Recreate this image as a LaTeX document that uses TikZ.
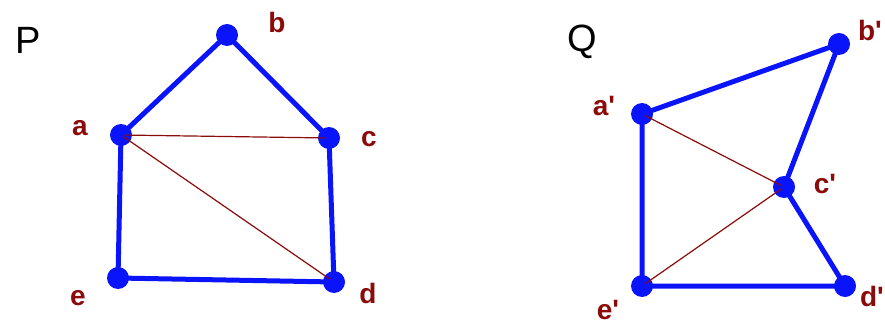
\documentclass[tikz,border=0pt]{standalone}
\usepackage{fontspec}
\setmainfont{Liberation Sans}
\usetikzlibrary{calc}
\definecolor{Vivid}{HTML}{0A14FA}
\definecolor{Maroon}{HTML}{8B0A0A}

\tikzset{
  vertex/.style={circle, fill=Vivid, inner sep=0pt, minimum size=22pt},
  edge/.style={draw=Vivid, line width=5pt},
  chord/.style={draw=Maroon, line width=1.2pt},
  lbl/.style={text=Maroon, font=\fontsize{28}{30}\selectfont\bfseries, inner sep=0pt},
  title/.style={font=\fontsize{38}{40}\selectfont, inner sep=0pt}
}

\begin{document}
\begin{tikzpicture}[x=1pt, y=-1pt]
            \useasboundingbox (0,0) rectangle (885,331);
            % polygon P
            \node[title] (P) at (28,40) {P};
            \node[vertex] (a) at (121,135) {};
            \node[vertex] (b) at (227,35) {};
            \node[vertex] (c) at (329,138) {};
            \node[vertex] (d) at (334,282) {};
            \node[vertex] (e) at (118,278) {};
            \draw[chord] (a.center) -- (c.center);
            \draw[chord] (a.center) -- (d.center);
            \draw[edge] (a.center) -- (b.center) -- (c.center) -- (d.center) -- (e.center) -- cycle;
            \node[lbl] (la) at (80,128) {a};
            \node[lbl] (lb) at (277,22) {b};
            \node[lbl] (lc) at (369,139) {c};
            \node[lbl] (ld) at (368,293) {d};
            \node[lbl] (le) at (78,298) {e};
            % polygon Q
            \node[title] (Q) at (582,42) {Q};
            \node[vertex] (a2) at (642,114) {};
            \node[vertex] (b2) at (839,44) {};
            \node[vertex] (c2) at (784,187) {};
            \node[vertex] (d2) at (845,286) {};
            \node[vertex] (e2) at (642,286) {};
            \draw[chord] (a2.center) -- (c2.center);
            \draw[chord] (e2.center) -- (c2.center);
            \draw[edge] (a2.center) -- (b2.center) -- (c2.center) -- (d2.center) -- (e2.center) -- cycle;
            \node[lbl] (la2) at (604,106) {a\textquotesingle};
            \node[lbl] (lb2) at (870,30) {b\textquotesingle};
            \node[lbl] (lc2) at (825,184) {c\textquotesingle};
            \node[lbl] (ld2) at (872,296) {d\textquotesingle};
            \node[lbl] (le2) at (608,310) {e\textquotesingle};
        \end{tikzpicture}
\end{document}
